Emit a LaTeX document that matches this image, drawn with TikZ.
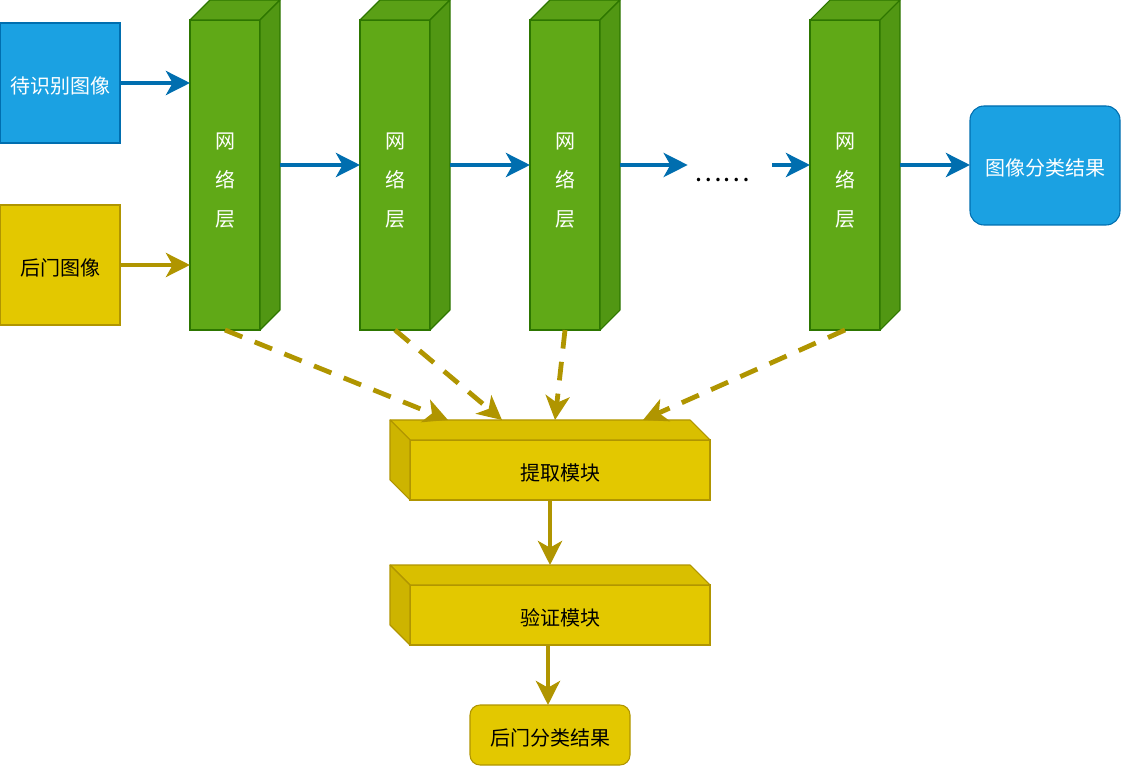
\documentclass[tikz,border=0pt]{standalone}
\usepackage{fontspec}
\setmainfont{Noto Sans CJK SC}
\usetikzlibrary{arrows.meta,calc}
\newlength\unitpx
\setlength\unitpx{0.75pt}
\definecolor{bluefill}{HTML}{1BA1E2}
\definecolor{bluestroke}{HTML}{006EAF}
\definecolor{greenfill}{HTML}{60A917}
\definecolor{greentop}{HTML}{5AA016}
\definecolor{greenside}{HTML}{519713}
\definecolor{greenstroke}{HTML}{2D7600}
\definecolor{yelfill}{HTML}{E3C800}
\definecolor{yeltop}{HTML}{D9BF00}
\definecolor{yelside}{HTML}{CDB400}
\definecolor{yelstroke}{HTML}{B09500}
\tikzset{
  txt/.style={font=\fontsize{15}{18}\selectfont, text height=17.5pt, text depth=2pt},
  bluebox/.style={txt, draw=bluestroke, fill=bluefill, text=white, line width=0.8pt, inner sep=0pt, outer sep=0pt},
  yelbox/.style={txt, draw=yelstroke, fill=yelfill, text=black, line width=0.8pt, inner sep=0pt, outer sep=0pt},
  layer/.style={draw=greenstroke, fill=greenfill, line width=0.8pt, inner sep=0pt, outer sep=0pt,
    anchor=north west, minimum width=70\unitpx, minimum height=310\unitpx},
  layertext/.style={text=white, align=center, font=\fontsize{15}{29}\selectfont},
  module/.style={yelbox, anchor=north west, minimum width=300\unitpx, minimum height=60\unitpx},
  tip/.style={-{Stealth[length=18pt,width=18pt,inset=5pt]}},
  bluearrow/.style={tip, draw=bluestroke, line width=3.6pt},
  yelarrow/.style={tip, draw=yelstroke, line width=3.6pt},
  dasharrow/.style={yelarrow, dash pattern=on 14pt off 10pt},
}
\begin{document}
\begin{tikzpicture}[x=0.75pt,y=-0.75pt]
\useasboundingbox (0,0) rectangle (1121,766);

% inputs
\node[bluebox, anchor=north west, minimum width=120\unitpx, minimum height=120\unitpx] (in) at (0,23) {待识别图像};
\node[yelbox, anchor=north west, minimum width=120\unitpx, minimum height=120\unitpx] (bd) at (0,205) {后门图像};

% network layers drawn as cuboids
\foreach \n/\x in {c1/190, c2/360, c3/530, c4/810}{
  \node[layer] (\n) at (\x,20) {};
  \filldraw[draw=greenstroke, fill=greentop, line width=0.8pt, line join=round]
    (\n.north west) -- ++(20,-20) -- ++(70,0) -- (\n.north east) -- cycle;
  \filldraw[draw=greenstroke, fill=greenside, line width=0.8pt, line join=round]
    (\n.north east) -- ++(20,-20) -- ++(0,310) -- (\n.south east) -- cycle;
  \node[layertext] (\n t) at ($(\n.north)+(0,160.5)$) {网\\络\\层};
  \coordinate (\n r) at ($(\n.north east)+(20,145)$);
}

% output of the classifier
\node[bluebox, anchor=north west, rounded corners=14\unitpx, minimum width=150\unitpx, minimum height=119\unitpx] (out) at (970,106) {图像分类结果};

\node[font=\fontsize{19.5}{22}\selectfont, inner sep=0pt, anchor=base] (dots) at (722.5,182) {……};

% extraction and verification modules
\foreach \n/\y/\t in {ext/440/提取模块, ver/585/验证模块}{
  \node[module] (\n) at (410,\y) {\t};
  \filldraw[draw=yelstroke, fill=yeltop, line width=0.8pt, line join=round]
    (\n.north west) -- ++(-20,-20) -- ++(300,0) -- (\n.north east) -- cycle;
  \filldraw[draw=yelstroke, fill=yelside, line width=0.8pt, line join=round]
    (\n.north west) -- ++(-20,-20) -- ++(0,60) -- (\n.south west) -- cycle;
}

\node[yelbox, anchor=north west, rounded corners=10\unitpx, minimum width=160\unitpx, minimum height=60\unitpx] (res) at (470,705) {后门分类结果};

% forward path
\draw[bluearrow] (in.east) -- (in.east -| c1.west);
\draw[yelarrow] (bd.east) -- (bd.east -| c1.west);
\draw[bluearrow] (c1r) -- (c1r -| c2.west);
\draw[bluearrow] (c2r) -- (c2r -| c3.west);
\draw[bluearrow] (c3r) -- ($(c3r -| dots.west)+(-7,0)$);
\draw[bluearrow] ($(c3r -| dots.east)+(22,0)$) -- (c3r -| c4.west);
\draw[bluearrow] (c4r) -- (c4r -| out.west);

% features taken from each layer
\coordinate (e1) at ($(ext.north west)+(38,-20)$);
\coordinate (e2) at ($(ext.north west)+(92,-20)$);
\coordinate (e3) at ($(ext.north west)+(145,-20)$);
\coordinate (e4) at ($(ext.north west)+(233,-20)$);
\draw[dasharrow] (c1.south) -- (e1);
\draw[dasharrow] (c2.south) -- (e2);
\draw[dasharrow] (c3.south) -- (e3);
\draw[dasharrow] (c4.south) -- (e4);

% backdoor check
\draw[yelarrow] ($(ext.south)+(-10,0)$) -- ($(ver.north)+(-10,-20)$);
\draw[yelarrow] ($(ver.south)+(-12,0)$) -- ($(res.north)+(-2,0)$);
\end{tikzpicture}
\end{document}
